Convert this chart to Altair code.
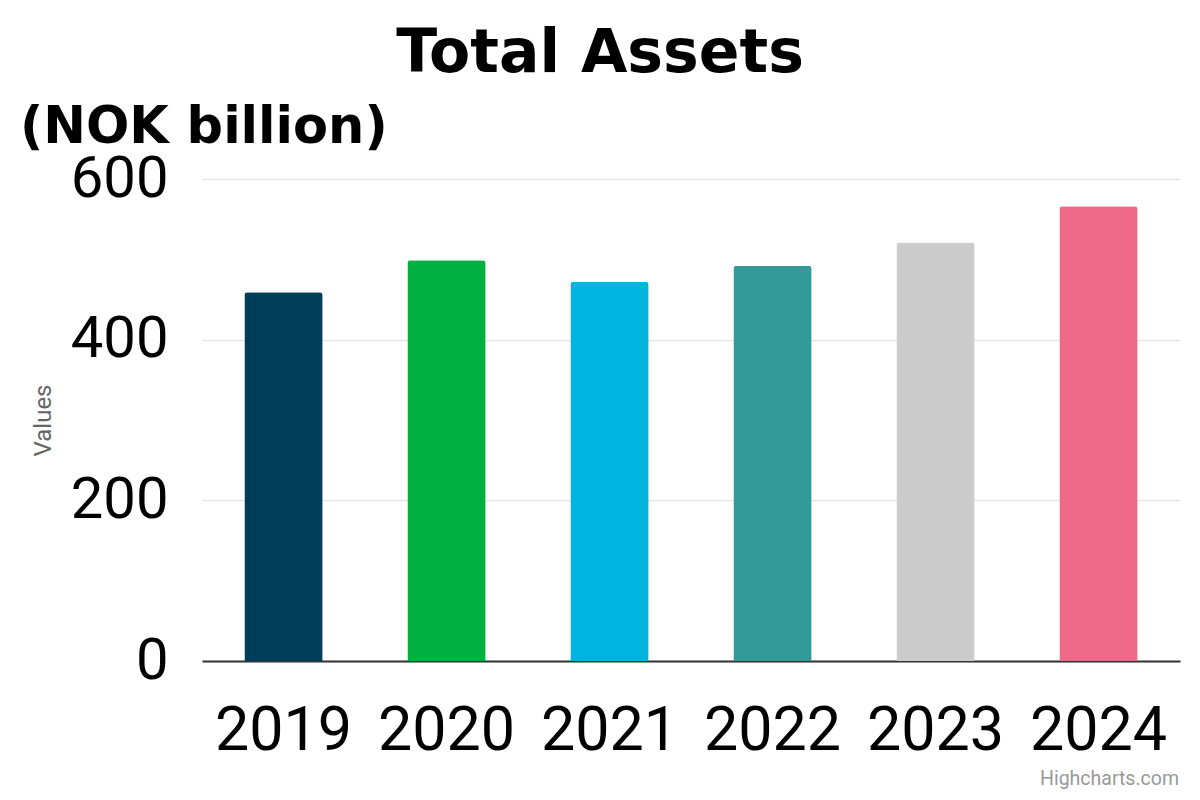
import altair as alt
import pandas as pd

years = ["2019", "2020", "2021", "2022", "2023", "2024"]
values = [459, 499, 472, 492, 521, 566]
colors = ["#003d5b", "#00b140", "#00b4e0", "#349a99", "#cccccc", "#ef6a88"]
y_ticks = [0, 200, 400, 600]
title_text = "Total Assets"
subtitle_text = "(NOK billion)"
credit_text = "Highcharts.com"

df = pd.DataFrame({"year": years, "value": values})
one = pd.DataFrame({"k": [0]})

W, H = 978, 482

bars = alt.Chart(df).mark_bar(
    cornerRadiusTopLeft=3, cornerRadiusTopRight=3
).encode(
    x=alt.X("year:N", sort=years,
            scale=alt.Scale(paddingInner=0.52, paddingOuter=0.26),
            axis=alt.Axis(title=None, labelAngle=0, labelFont="Roboto",
                          labelFontSize=61, labelColor="#000000",
                          labelPadding=40, ticks=False, domain=True,
                          domainColor="#333333", domainWidth=2, grid=False)),
    y=alt.Y("value:Q", scale=alt.Scale(domain=[0, 600], nice=False),
            axis=alt.Axis(title="Values", values=y_ticks, labelFont="Roboto",
                          labelFontSize=58, labelColor="#000000",
                          labelPadding=34, ticks=False, domain=False,
                          gridColor="#e6e6e6", gridWidth=1.5,
                          titleFont="Roboto", titleFontSize=24,
                          titleFontWeight="normal", titleColor="#666666",
                          titleAngle=-90, titleAlign="center",
                          titleBaseline="middle", titleX=-159, titleY=241)),
    color=alt.Color("year:N", scale=alt.Scale(domain=years, range=colors),
                    legend=None),
)

title = alt.Chart(one).mark_text(
    text=title_text, font="DejaVu Sans", fontWeight="bold", fontSize=60,
    align="center", baseline="alphabetic", color="#000000"
).encode(x=alt.value(398), y=alt.value(-107))

subtitle = alt.Chart(one).mark_text(
    text=subtitle_text, font="DejaVu Sans", fontWeight="bold", fontSize=51,
    align="left", baseline="alphabetic", color="#000000"
).encode(x=alt.value(-182), y=alt.value(-36))

credit = alt.Chart(one).mark_text(
    text=credit_text, font="Roboto", fontSize=19.5,
    align="right", baseline="alphabetic", color="#999999"
).encode(x=alt.value(977), y=alt.value(606))

chart = alt.layer(bars, title, subtitle, credit).properties(
    width=W, height=H,
    background="#ffffff",
    autosize=alt.AutoSizeParams(type="none"),
    padding={"left": 194, "top": 171, "right": 12, "bottom": 131},
).configure_view(stroke=None)

chart.save("out.html", embed_options={"renderer": "svg", "actions": False})
